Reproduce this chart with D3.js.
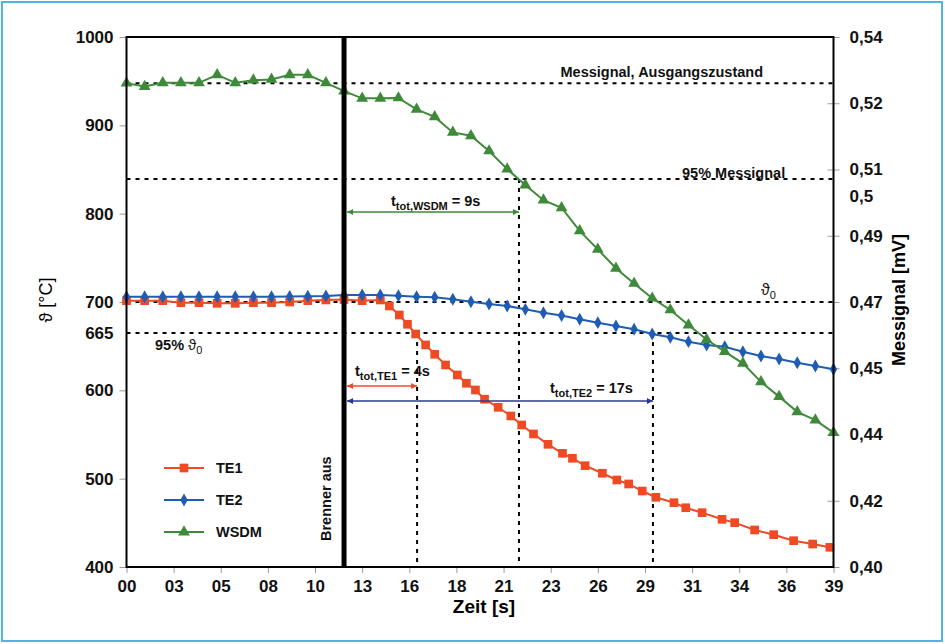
<!DOCTYPE html>
<html>
<head>
<meta charset="utf-8">
<script src="https://cdn.jsdelivr.net/npm/d3@7"></script>
<style>
  body { margin: 0; background: #fff; }
  svg { font-family: "Liberation Sans", Arial, sans-serif; }
  .tick-label { font-weight: bold; font-size: 17px; fill: #111; }
  .note { font-weight: bold; font-size: 14.5px; fill: #111; }
</style>
</head>
<body>
<div id="chart"></div>
<script>
// time [s] for TE2 and WSDM (one reading per second)
const secs = [0,1,2,3,4,5,6,7,8,9,10,11,12,13,14,15,16,17,18,19,20,21,22,23,24,25,26,27,28,29,30,31,32,33,34,35,36,37,38,39];

// TE1 has its own time stamps
const te1Time = [0,1,2,3,4,5,6,7,8,9,10,11,12,13,14,14.5,15.05,15.5,15.95,16.5,17,17.6,18.25,18.75,19.25,19.75,20.5,21.2,21.8,22.45,23.25,24.05,24.6,25.3,26.25,27.05,27.7,28.45,29.2,30.2,30.85,31.75,32.85,33.55,34.65,35.7,36.8,37.85,38.8];
const te1Temp = [701.5,701.5,701.5,699.2,699.2,698.5,698.5,699.2,699.2,700,701.5,702.3,702.8,701.5,702.3,695.5,685.3,674.8,663.8,651.4,640.8,628.7,617.4,608,600.4,589.9,580.8,571,560.8,550.6,538.9,528.7,523.1,514.7,506.1,498.5,494,486,478.9,472.8,467.1,461.5,454,450.2,441.9,436.6,429.8,426,422.3];

const te2Temp = [706,706,706,706,706,706,706,706,706,706.3,706.5,706.8,707.9,707.9,707.9,707.1,706,705.3,703.1,700.3,697.7,695.5,691.7,687.9,684.7,680.4,676.6,672.8,669.1,663.8,660,655.1,651.3,649.4,643.7,638.9,635.5,631.3,627.6,623.8];

// WSDM signal [mV], right axis
const wsdmSignal = [0.5278,0.5269,0.5279,0.5279,0.5279,0.5300,0.5279,0.5286,0.5288,0.5300,0.5300,0.5279,0.5257,0.5238,0.5238,0.5239,0.5209,0.5189,0.5148,0.5139,0.5099,0.5051,0.5009,0.4969,0.4949,0.4888,0.4839,0.4789,0.4749,0.4710,0.4679,0.4639,0.4601,0.4569,0.4538,0.4489,0.4450,0.4410,0.4388,0.4355];

// axes
const xTicks = [0,2.6,5.2,7.8,10.4,13,15.6,18.2,20.8,23.4,26,28.6,31.2,33.8,36.4,39];
const xTickLabels = ["00","03","05","08","10","13","16","18","21","23","26","29","31","34","36","39"];
const leftTicks = [400,500,600,700,800,900,1000];
const rightTicks = [0.40,0.4175,0.435,0.4525,0.47,0.4875,0.505,0.5225,0.54];
const rightTickLabels = ["0,40","0,42","0,44","0,45","0,47","0,49","0,51","0,52","0,54"];

// reference values and markers
const burnerOff = 12;
const theta0 = 700, theta95 = 665;
const signal0 = 0.5278, signal95 = 0.5025;
const tTE1 = 16.03, tWSDM = 21.65, tTE2 = 29.04;

const width = 945, height = 644;
const pLeft = 126.5, pRight = 833.5, pTop = 37, pBottom = 567;

const svg = d3.select('#chart').append('svg')
    .attr('width', width)
    .attr('height', height);

// light blue frame round the picture
svg.append('rect')
    .attr('x', 2).attr('y', 2)
    .attr('width', width - 5).attr('height', height - 5)
    .attr('fill', 'none')
    .attr('stroke', '#4cb6e6')
    .attr('stroke-width', 2);

const x = d3.scaleLinear().domain([0, 39]).range([pLeft, pRight]);
const yT = d3.scaleLinear().domain([400, 1000]).range([pBottom, pTop]);
const yS = d3.scaleLinear().domain([0.40, 0.54]).range([pBottom, pTop]);

// axes
const xAxis = svg.append('g')
    .attr('transform', `translate(0, ${pBottom})`)
    .call(d3.axisBottom(x).tickValues(xTicks).tickSize(6).tickPadding(7)
        .tickFormat((d, i) => xTickLabels[i]));

const yAxisL = svg.append('g')
    .attr('transform', `translate(${pLeft}, 0)`)
    .call(d3.axisLeft(yT).tickValues(leftTicks).tickSize(7).tickPadding(6)
        .tickFormat(d3.format('d')));

const yAxisR = svg.append('g')
    .attr('transform', `translate(${pRight}, 0)`)
    .call(d3.axisRight(yS).tickValues(rightTicks).tickSize(6).tickPadding(10)
        .tickFormat((d, i) => rightTickLabels[i]));

yAxisR.selectAll('.tick line').attr('x1', -6);

[xAxis, yAxisL, yAxisR].forEach(a => {
    a.select('.domain').remove();
    a.selectAll('.tick line').attr('stroke', '#999');
    a.selectAll('.tick text').attr('class', 'tick-label').attr('font-family', null).attr('font-size', null);
});

// extra axis labels
svg.append('text').attr('class', 'tick-label')
    .attr('x', pLeft - 13).attr('y', yT(theta95)).attr('dy', '0.35em')
    .attr('text-anchor', 'end').text('665');
svg.append('text').attr('class', 'tick-label')
    .attr('x', pRight + 16).attr('y', yS(0.498)).attr('dy', '0.35em')
    .text('0,5');

// dashed reference lines
const dash = svg.append('g')
    .attr('stroke', '#000')
    .attr('stroke-width', 2)
    .attr('stroke-dasharray', '4,5');

[yS(signal0), yS(signal95), yT(theta0), yT(theta95)].forEach(yy => {
    dash.append('line').attr('x1', pLeft).attr('x2', pRight).attr('y1', yy).attr('y2', yy);
});
dash.append('line').attr('x1', x(tTE1)).attr('x2', x(tTE1)).attr('y1', yT(theta95)).attr('y2', pBottom);
dash.append('line').attr('x1', x(tWSDM)).attr('x2', x(tWSDM)).attr('y1', yS(signal95)).attr('y2', pBottom);
dash.append('line').attr('x1', x(tTE2)).attr('x2', x(tTE2)).attr('y1', yT(theta95)).attr('y2', pBottom);

// series
const series = [
    { name: 'TE1', color: '#ee4a24', symbol: d3.symbolSquare, size: 75,
      points: te1Time.map((t, i) => [x(t), yT(te1Temp[i])]) },
    { name: 'TE2', color: '#1f5db5', symbol: d3.symbolDiamond, size: 48,
      points: secs.map((t, i) => [x(t), yT(te2Temp[i])]) },
    { name: 'WSDM', color: '#3f8a3a', symbol: d3.symbolTriangle, size: 60,
      points: secs.map((t, i) => [x(t), yS(wsdmSignal[i])]) }
];

const line = d3.line();

series.forEach(s => {
    const g = svg.append('g');
    g.append('path')
        .attr('d', line(s.points))
        .attr('fill', 'none')
        .attr('stroke', s.color)
        .attr('stroke-width', 2);
    g.selectAll('path.m')
        .data(s.points)
        .join('path')
        .attr('class', 'm')
        .attr('transform', d => `translate(${d[0]}, ${d[1]})`)
        .attr('d', d3.symbol(s.symbol, s.size))
        .attr('fill', s.color);
});

// burner off line
svg.append('line')
    .attr('x1', x(burnerOff)).attr('x2', x(burnerOff))
    .attr('y1', pTop).attr('y2', pBottom)
    .attr('stroke', '#000')
    .attr('stroke-width', 5);

svg.append('text')
    .attr('class', 'note')
    .attr('transform', `translate(${x(burnerOff) - 13}, 541) rotate(-90)`)
    .text('Brenner aus');

// plot frame
svg.append('rect')
    .attr('x', pLeft).attr('y', pTop)
    .attr('width', pRight - pLeft).attr('height', pBottom - pTop)
    .attr('fill', 'none')
    .attr('stroke', '#000')
    .attr('stroke-width', 2);

// arrows
const defs = svg.append('defs');
function arrowHead(id, color) {
    defs.append('marker')
        .attr('id', id)
        .attr('viewBox', '0 0 10 10')
        .attr('refX', 10).attr('refY', 5)
        .attr('markerWidth', 7).attr('markerHeight', 6)
        .attr('markerUnits', 'userSpaceOnUse')
        .attr('orient', 'auto-start-reverse')
        .append('path')
        .attr('d', 'M0,0 L10,5 L0,10 z')
        .attr('fill', color);
    return `url(#${id})`;
}

const arrows = [
    { id: 'aW', color: '#3f8a3a', y: 212, t: tWSDM },
    { id: 'a1', color: '#ee4a24', y: 386, t: tTE1 },
    { id: 'a2', color: '#2b3990', y: 401, t: tTE2 }
];
arrows.forEach(a => {
    const m = arrowHead(a.id, a.color);
    svg.append('line')
        .attr('x1', x(burnerOff) + 3).attr('x2', x(a.t))
        .attr('y1', a.y).attr('y2', a.y)
        .attr('stroke', a.color)
        .attr('stroke-width', 1.5)
        .attr('marker-start', m)
        .attr('marker-end', m);
});

// t_tot labels
function ttot(xx, yy, sub, rest) {
    const t = svg.append('text').attr('class', 'note').attr('x', xx).attr('y', yy);
    t.append('tspan').text('t');
    t.append('tspan').attr('dy', 4).attr('font-size', 11).text(sub);
    t.append('tspan').attr('dy', -4).text(' = ' + rest);
}
ttot(391, 206, 'tot,WSDM', '9s');
ttot(355, 376, 'tot,TE1', '4s');
ttot(550, 393, 'tot,TE2', '17s');

// notes on reference lines
svg.append('text').attr('class', 'note')
    .attr('x', 763).attr('y', 77).attr('text-anchor', 'end')
    .text('Messignal, Ausgangszustand');
svg.append('text').attr('class', 'note')
    .attr('x', 682).attr('y', 178)
    .text('95% Messignal');

const th0 = svg.append('text')
    .attr('x', 761).attr('y', 295)
    .attr('font-size', 16).attr('fill', '#111');
th0.append('tspan').text('ϑ');
th0.append('tspan').attr('dy', 4).attr('font-size', 11).text('0');

const th95 = svg.append('text')
    .attr('x', 155).attr('y', 350)
    .attr('font-size', 15).attr('fill', '#111');
th95.append('tspan').attr('font-weight', 'bold').attr('font-size', 14.5).text('95% ');
th95.append('tspan').text('ϑ');
th95.append('tspan').attr('dy', 4).attr('font-size', 11).text('0');

// legend
const legend = svg.append('g');
series.forEach((s, i) => {
    const ly = 468 + i * 32;
    legend.append('line')
        .attr('x1', 164).attr('x2', 204)
        .attr('y1', ly).attr('y2', ly)
        .attr('stroke', s.color).attr('stroke-width', 2);
    legend.append('path')
        .attr('transform', `translate(184, ${ly})`)
        .attr('d', d3.symbol(s.symbol, s.size))
        .attr('fill', s.color);
    legend.append('text')
        .attr('class', 'note')
        .attr('font-size', 13)
        .attr('x', 216).attr('y', ly).attr('dy', '0.35em')
        .text(s.name);
});

// axis titles
svg.append('text')
    .attr('x', 484).attr('y', 613)
    .attr('text-anchor', 'middle')
    .attr('font-weight', 'bold').attr('font-size', 19)
    .text('Zeit [s]');

svg.append('text')
    .attr('transform', `translate(905, 300) rotate(-90)`)
    .attr('text-anchor', 'middle')
    .attr('font-weight', 'bold').attr('font-size', 18)
    .text('Messignal [mV]');

svg.append('text')
    .attr('transform', `translate(52, 300) rotate(-90)`)
    .attr('text-anchor', 'middle')
    .attr('font-size', 18)
    .text('ϑ [°C]');
</script>
</body>
</html>
